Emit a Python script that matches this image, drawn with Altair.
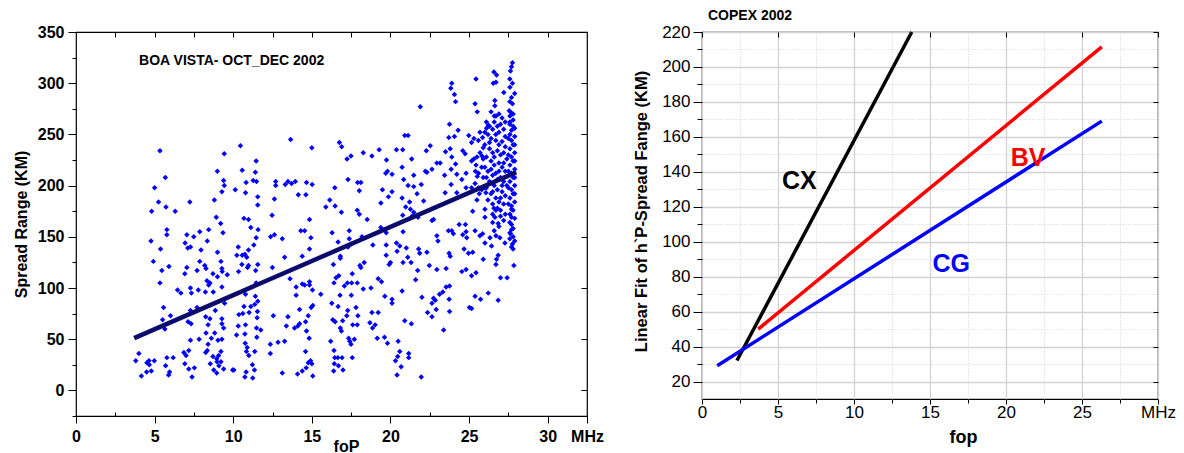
import altair as alt
import pandas as pd

FONT = "Liberation Sans"

# ---------------- Left panel: scatter (foP MHz, spread range km) ----------------
scatter_0_10 = [
    (5.34,234),(9.43,231),(5.68,208),(8.99,214),(5.0,198),(9.39,205),(9.28,194),(9.43,200),(5.25,184),(7.24,184),
    (5.72,179),(4.81,175),(6.31,175),(8.8,186),(8.92,169),(9.2,163),(5.78,157),(5.78,152),(9.35,154),(7.05,152),
    (7.49,150),(7.87,155),(8.44,157),(4.77,146),(6.94,144),(7.11,139),(7.28,140),(8.35,146),(5.38,138),(7.95,137),
    (9.0,135),(4.92,126),(7.87,126),(9.22,126),(5.91,121),(7.05,120),(8.19,122),(8.27,119),(5.46,117),(6.92,114),
    (7.7,117),(9.28,119),(9.3,116),(8.71,114),(9.62,113),(9.0,111),(5.34,105),(8.33,107),(8.52,105),(8.44,103),
    (6.46,98),(6.67,95),(7.28,100),(7.34,95),(7.78,98),(8.23,96),(8.73,96),(9.28,101),(9.45,85),(8.86,78),
    (5.57,81),(6.01,73),(5.51,69),(5.65,60),(7.28,78),(7.7,81),(7.13,67),(7.32,65),(8.25,72),(8.52,70),
    (9.28,70),(9.28,65),(8.4,64),(9.39,61),(8.27,56),(8.82,56),(8.61,51),(9.03,49),(9.28,50),(7.28,49),
    (7.83,50),(8.4,45),(8.35,39),(8.25,37),(8.71,33),(9.22,38),(9.07,34),(8.95,31),(8.97,28),(9.22,28),
    (9.09,24),(8.76,20),(8.95,17),(9.39,21),(8.54,26),(9.96,20),(7.17,39),(6.86,37),(7.0,34),(6.92,26),
    (7.17,21),(7.53,22),(7.38,13),(6.18,32),(5.78,32),(5.7,24),(5.95,18),(5.89,15),(4.98,29),(4.64,29),
    (4.51,27),(4.66,25),(4.0,36),(3.8,29),(4.79,19),(4.49,18),(4.16,14),
]
scatter_10_20 = [
    (10.46,239),(13.65,245),(15.0,237),(11.46,224),(10.57,215),(11.41,213),(10.82,203),(11.27,205),(11.48,204),(10.78,193),
    (10.13,196),(11.56,189),(11.56,181),(12.7,204),(12.7,200),(13.31,201),(13.48,204),(13.71,202),(13.95,204),(14.66,203),
    (15.02,201),(12.62,187),(14.14,191),(14.62,191),(12.47,171),(10.68,168),(10.97,167),(11.12,159),(11.58,157),(14.85,167),
    (14.3,156),(14.54,156),(12.38,150),(12.62,152),(13.12,148),(14.94,149),(11.46,149),(11.31,142),(10.32,140),(10.97,137),
    (10.74,133),(10.23,132),(10.57,132),(10.86,130),(11.56,123),(10.97,122),(10.55,123),(10.91,120),(11.43,117),(10.34,116),
    (13.27,130),(14.39,131),(14.85,138),(12.49,120),(13.61,109),(11.46,105),(10.78,94),(11.41,92),(11.56,87),(11.37,84),
    (11.12,82),(10.68,82),(10.36,74),(10.61,75),(11.01,76),(11.54,77),(11.52,71),(10.32,63),(10.78,64),(11.48,61),
    (11.75,59),(10.74,55),(10.21,54),(11.5,52),(10.76,46),(10.89,42),(10.84,38),(10.99,34),(11.37,38),(11.22,25),
    (11.35,20),(10.82,18),(10.74,13),(11.24,12),(10.04,20),(12.55,73),(12.36,45),(12.36,36),(12.85,47),(13.27,48),
    (13.48,72),(13.38,63),(13.12,17),(14.0,101),(14.0,93),(14.39,104),(14.54,103),(14.85,106),(14.85,103),(15.04,98),
    (15.57,94),(14.22,79),(15.06,83),(14.96,81),(14.77,73),(14.6,67),(14.22,65),(13.9,61),(14.11,63),(14.66,58),
    (14.83,51),(14.6,38),(14.92,29),(14.77,27),(15.0,26),(14.64,22),(14.39,19),(14.09,16),(15.06,14),(16.2,48),
    (16.41,39),(16.46,32),(16.65,32),(16.43,26),(16.69,24),(16.98,20),(16.39,19),(16.92,32),(17.57,32),(17.41,48),
    (17.49,45),(17.34,51),(17.7,50),(16.33,69),(16.48,67),(16.81,61),(16.88,58),(16.96,68),(17.22,73),(17.6,64),
    (17.89,64),(17.81,81),(17.93,73),(17.28,78),(16.27,85),(16.67,82),(16.79,93),(17.51,93),(17.07,102),(17.26,105),
    (17.53,105),(17.89,105),(16.41,105),(16.54,110),(16.71,112),(17.57,114),(18.27,99),(18.76,100),(19.22,109),(19.43,106),
    (19.64,92),(18.82,76),(19.22,76),(18.69,66),(18.86,61),(19.03,64),(19.16,51),(19.62,52),(19.81,46),(18.06,122),
    (18.33,125),(18.12,120),(16.37,123),(16.81,129),(16.81,131),(16.67,145),(16.29,154),(17.38,156),(17.38,148),(17.3,140),
    (17.49,143),(18.19,150),(18.88,142),(19.39,159),(19.73,154),(19.73,142),(19.73,132),(19.92,123),(16.14,186),(15.89,179),
    (16.48,180),(16.88,174),(17.89,176),(18.02,172),(18.52,167),(16.46,198),(17.3,206),(17.91,203),(18.12,203),(18.02,195),
    (16.75,242),(16.9,238),(17.24,226),(17.49,229),(18.27,232),(18.82,229),(19.28,235),(19.75,225),(19.7,212),(19.81,214),
    (19.49,196),(19.39,183),(19.87,189),
]
scatter_20_25 = [
    (23.9,300),(23.84,295),(24.07,289),(24.14,282),(21.9,277),(23.76,260),(24.3,254),(24.07,248),(23.71,247),(24.98,249),
    (20.91,249),(21.12,249),(20.38,235),(20.78,235),(22.28,234),(22.53,239),(23.5,233),(23.8,236),(23.9,228),(24.6,234),
    (24.75,231),(21.35,226),(20.74,218),(22.22,214),(22.32,213),(22.64,216),(22.95,222),(23.16,222),(23.44,210),(23.86,216),
    (24.14,221),(24.22,211),(24.54,206),(24.81,212),(20.84,206),(21.48,210),(21.12,200),(21.48,199),(21.96,201),(20.1,211),
    (20.1,194),(21.69,192),(22.11,185),(20.74,188),(21.22,184),(20.97,179),(21.27,177),(20.78,171),(21.48,174),(21.37,170),
    (21.75,169),(22.64,166),(22.74,167),(23.48,193),(23.86,201),(24.22,193),(24.81,198),(20.8,155),(20.38,144),(20.59,141),
    (21.01,139),(20.42,136),(21.1,130),(20.8,125),(21.31,125),(20.0,125),(21.79,138),(21.86,134),(22.32,135),(22.47,122),
    (22.95,118),(22.95,151),(23.02,146),(23.69,156),(23.9,156),(24.0,153),(24.37,162),(24.77,162),(24.81,155),(24.6,152),
    (24.85,149),(24.68,138),(24.96,134),(23.73,134),(23.8,131),(23.54,119),(24.54,116),(24.81,118),(21.73,117),(21.6,108),
    (20.74,97),(22.0,91),(23.54,101),(23.76,102),(23.12,94),(23.33,96),(22.74,90),(22.85,88),(22.64,85),(22.91,79),
    (22.36,76),(22.64,72),(23.76,77),(23.73,89),(25.02,81),(20.1,89),(20.1,85),(20.91,68),(21.33,65),(23.38,59),
    (20.49,48),(20.59,38),(21.16,36),(21.16,32),(20.46,33),(20.32,29),(20.68,23),(20.42,15),(21.96,13),
]
scatter_25_28 = [
    (27.76,320),(27.7,316),(27.63,312),(27.59,304),(27.76,300),(26.58,311),(26.75,308),(26.54,300),(26.71,301),(25.44,304),
    (27.21,291),(25.38,280),(25.52,272),(26.64,283),(26.64,278),(26.71,268),(27.59,282),(27.76,280),(27.55,273),(27.7,271),
    (27.8,264),(27.59,260),(26.22,259),(26.11,256),(25.69,252),(25.86,247),(25.59,244),(25.16,242),(25.31,246),(25.9,237),
    (25.82,229),(25.44,220),(25.16,224),(25.52,209),(25.38,202),(25.16,198),(25.65,192),(26.0,198),(26.07,193),(26.01,177),
    (26.01,169),(25.23,175),(25.38,156),(25.86,153),(25.69,151),(26.01,144),(26.33,149),(26.43,141),(26.71,151),(26.96,149),
    (27.28,144),(27.59,148),(27.76,143),(25.23,135),(25.9,128),(26.85,132),(26.75,128),(26.71,123),(27.85,122),(25.16,112),
    (25.44,115),(27.0,110),(27.42,110),(25.38,92),(25.73,89),(26.22,95),(26.85,88),(25.16,80),(26.5,172),(26.5,164),
    (26.64,169),(26.85,163),(26.58,178),(27.7,177),(27.7,169),(27.59,164),(27.7,157),(27.63,153),
]
scatter_dense = [
    (26.1,262),(26.3,258),(26.5,255),(26.6,262),(26.8,258),(26.9,252),(27.0,260),(27.2,255),(27.3,248),(26.2,250),
    (26.4,246),(26.7,244),(26.9,240),(27.1,243),(27.3,238),(26.0,240),(26.3,236),(26.5,232),(26.8,234),(27.0,230),
    (27.2,232),(27.4,226),(26.1,228),(26.4,224),(26.6,220),(26.9,222),(27.1,218),(27.3,214),(26.0,218),(26.2,214),
    (26.5,210),(26.7,212),(27.0,208),(27.2,204),(27.4,200),(26.3,204),(26.6,200),(26.8,196),(27.1,194),(27.3,190),
    (26.1,198),(26.4,192),(26.7,188),(26.9,184),(27.2,182),(26.5,182),(26.8,178),(27.0,176),(27.3,172),(26.2,186),
    (25.9,208),(25.8,218),(25.9,226),(25.7,232),(25.8,196),(25.6,212),(26.0,252),(26.6,268),(26.9,270),(27.1,266),
    (26.4,272),(27.3,262),(25.5,228),(25.4,214),(25.6,198),(25.3,226),(25.5,186),(26.7,250),(26.3,242),(26.6,228),
    (26.9,214),(27.2,222),(26.5,194),(27.0,188),(26.1,208),(26.8,206),(27.1,200),(26.4,216),(26.7,176),(27.2,166),
    (26.9,160),(27.0,170),(26.6,156),
    (27.6,262),(27.8,258),(27.7,254),(27.6,250),(27.9,248),(27.7,244),(27.8,240),(27.6,236),(27.9,232),(27.7,228),
    (27.8,224),(27.6,220),(27.9,216),(27.7,212),(27.8,208),(27.6,204),(27.9,200),(27.7,196),(27.8,192),(27.6,188),
    (27.9,184),(27.7,180),(27.8,176),(27.6,172),(27.9,168),(27.7,162),(27.8,158),(27.6,154),(27.8,150),(27.9,146),
    (27.7,140),(27.8,138),(27.9,256),(27.5,246),(27.5,230),(27.5,214),(27.5,198),(27.5,182),(27.9,240),(27.9,224),
    (27.9,208),(27.9,192),(27.6,268),(27.8,270),(27.7,286),(27.9,290),(27.6,296),
]

fit_x = [3.7, 28.0]
fit_y = [51, 213]

left_note = ["BOA VISTA- OCT_DEC 2002"]
left_note_x = [9.9]
left_note_y = [322]

left_x_major = [0, 5, 10, 15, 20, 25, 30, 32.5]
left_x_minor = [2.5, 7.5, 12.5, 17.5, 22.5, 27.5]
left_x_top = [2.5, 5, 7.5, 10, 12.5, 15, 17.5, 20, 22.5, 25, 27.5, 30]
left_y_major = [0, 50, 100, 150, 200, 250, 300, 350]
left_y_minor = [-25, 25, 75, 125, 175, 225, 275, 325]

# ---------------- Right panel: linear fits ----------------
fit_names = ["CX", "BV", "CG"]
fit_colors = ["#000000", "#ff0000", "#0000ff"]
fit_start_x = [2.3, 3.7, 1.0]
fit_start_y = [32, 50, 29]
fit_end_x = [13.8, 26.3, 26.3]
fit_end_y = [220, 211.5, 169]
label_x = [6.4, 21.45, 16.4]
label_y = [134.5, 148, 87.5]

right_x_major = [0, 5, 10, 15, 20, 25, 30]
right_x_minor = [2.5, 7.5, 12.5, 17.5, 22.5, 27.5]
right_y_major = [20, 40, 60, 80, 100, 120, 140, 160, 180, 200, 220]
right_y_minor = [30, 50, 70, 90, 110, 130, 150, 170, 190, 210]

# ---------------- tables ----------------
all_pts = scatter_0_10 + scatter_10_20 + scatter_20_25 + scatter_25_28 + scatter_dense
pts_df = pd.DataFrame({"x": [p[0] for p in all_pts], "y": [p[1] for p in all_pts]})
fit_df = pd.DataFrame({"x": fit_x, "y": fit_y})
note_df = pd.DataFrame({"x": left_note_x, "y": left_note_y, "t": left_note})

lines_rows = []
for n, x0, y0, x1, y1 in zip(fit_names, fit_start_x, fit_start_y, fit_end_x, fit_end_y):
    lines_rows.append({"series": n, "x": x0, "y": y0})
    lines_rows.append({"series": n, "x": x1, "y": y1})
lines_df = pd.DataFrame(lines_rows)
labels_df = pd.DataFrame({"series": fit_names, "x": label_x, "y": label_y})

LW, LH = 511, 384
RW, RH = 456, 367

lx_scale = alt.Scale(domain=[0, 32.5], nice=False, zero=False)
ly_scale = alt.Scale(domain=[-25, 350], nice=False, zero=False)
rx_scale = alt.Scale(domain=[0, 30], nice=False, zero=False)
ry_scale = alt.Scale(domain=[10, 220], nice=False, zero=False)

def tick_axis(orient, values, size, offset=0, **kw):
    return alt.Axis(orient=orient, values=values, tickSize=size, offset=offset, labels=False,
                    domain=False, grid=kw.pop("grid", False), title=None, ticks=True,
                    tickColor="black", tickWidth=1, **kw)

# left layers
left_points = alt.Chart(pts_df).mark_point(shape="diamond", filled=True, size=30, color="#0000ff", opacity=1).encode(
    x=alt.X("x:Q", scale=lx_scale, axis=alt.Axis(
        orient="bottom", values=left_x_major, format="d",
        labelExpr="datum.value == 32.5 ? 'MHz' : datum.label",
        tickSize=7, tickColor="black", labelPadding=5, domain=False, grid=False,
        labelFont=FONT, labelFontSize=16, labelFontWeight="bold", labelColor="black",
        labelFlush=False, labelOverlap=False,
        title="foP", titleFont=FONT, titleFontSize=16, titleFontWeight="bold", titleColor="black",
        titleX=270, titleY=22, titleBaseline="top")),
    y=alt.Y("y:Q", scale=ly_scale, axis=alt.Axis(
        orient="left", values=left_y_major, format="d", tickSize=8, tickColor="black",
        labelPadding=4, domain=False, grid=False,
        labelFont=FONT, labelFontSize=16, labelFontWeight="bold", labelColor="black",
        labelFlush=False, labelOverlap=False,
        title="Spread Range (KM)", titleFont=FONT, titleFontSize=16, titleFontWeight="bold",
        titleColor="black", titleX=-55, titleY=192, titleAngle=-90,
        titleAlign="center", titleBaseline="middle")),
)
left_fit = alt.Chart(fit_df).mark_line(color="#0b0b6e", strokeWidth=4.5).encode(
    x=alt.X("x:Q", scale=lx_scale, axis=tick_axis("bottom", left_x_minor, 4, offset=-4)),
    y=alt.Y("y:Q", scale=ly_scale, axis=tick_axis("left", left_y_minor, 4)),
)
left_note_layer = alt.Chart(note_df).mark_text(font=FONT, fontSize=14, fontWeight="bold", color="black").encode(
    x=alt.X("x:Q", scale=lx_scale, axis=tick_axis("top", left_x_top, 5, offset=-5)),
    y=alt.Y("y:Q", scale=ly_scale, axis=tick_axis("right", left_y_major, 6, offset=-6)),
    text="t:N",
)
left = alt.layer(left_points, left_fit, left_note_layer).resolve_axis(
    x="independent", y="independent").properties(width=LW, height=LH)

color_scale = alt.Scale(domain=fit_names, range=fit_colors)

right_lines = alt.Chart(lines_df).mark_line(strokeWidth=3.5).encode(
    x=alt.X("x:Q", scale=rx_scale, axis=alt.Axis(
        orient="bottom", values=right_x_major, format="d",
        labelExpr="datum.value == 30 ? 'MHz' : datum.label",
        tickSize=5, tickColor="black", labelPadding=0, domain=False,
        grid=True, gridColor="#d2d2d2", gridWidth=1.3,
        labelFont=FONT, labelFontSize=17, labelColor="black",
        labelFlush=False, labelOverlap=False,
        title="fop", titleFont=FONT, titleFontSize=18, titleFontWeight="bold", titleColor="black",
        titleX=261, titleY=29, titleBaseline="top")),
    y=alt.Y("y:Q", scale=ry_scale, axis=alt.Axis(
        orient="left", values=right_y_major, format="d", tickSize=9, tickColor="black",
        labelPadding=3, domain=False, grid=True, gridColor="#d2d2d2", gridWidth=1.3,
        labelFont=FONT, labelFontSize=17, labelColor="black",
        labelFlush=False, labelOverlap=False,
        title="Linear Fit of h`P-Spread Fange (KM)", titleFont=FONT, titleFontSize=16.5,
        titleFontWeight="bold", titleColor="black", titleX=-61, titleY=179, titleAngle=-90,
        titleAlign="center", titleBaseline="middle")),
    color=alt.Color("series:N", scale=color_scale, legend=None),
    detail="series:N",
)
right_labels = alt.Chart(labels_df).mark_text(font=FONT, fontSize=25, fontWeight="bold").encode(
    x=alt.X("x:Q", scale=rx_scale, axis=tick_axis("bottom", right_x_minor, 4, grid=True,
                                                 gridColor="#d0d0d0", gridDash=[1, 2], gridWidth=1)),
    y=alt.Y("y:Q", scale=ry_scale, axis=tick_axis("left", right_y_minor, 5, grid=True,
                                                 gridColor="#d0d0d0", gridDash=[1, 2], gridWidth=1)),
    text="series:N",
    color=alt.Color("series:N", scale=color_scale, legend=None),
)
right_ticks = alt.Chart(lines_df).mark_line(strokeOpacity=0).encode(
    x=alt.X("x:Q", scale=rx_scale, axis=tick_axis("top", right_x_major, 5, offset=-5)),
    y=alt.Y("y:Q", scale=ry_scale, axis=tick_axis("right", right_y_major, 5, offset=-5)),
    detail="series:N",
)
right = alt.layer(right_lines, right_labels, right_ticks).resolve_axis(
    x="independent", y="independent").properties(
    width=RW, height=RH,
    title=alt.TitleParams("COPEX 2002", anchor="start", frame="group", font=FONT, fontSize=14,
                          fontWeight="bold", color="black", offset=0, dx=6))

chart = alt.hconcat(left, right, spacing=115, bounds="flush").properties(
    padding={"left": 12, "top": 8, "right": 5, "bottom": 0}
).configure_view(stroke="black", strokeWidth=1.2)

chart.save("out.html", embed_options={"renderer": "svg", "actions": False})
